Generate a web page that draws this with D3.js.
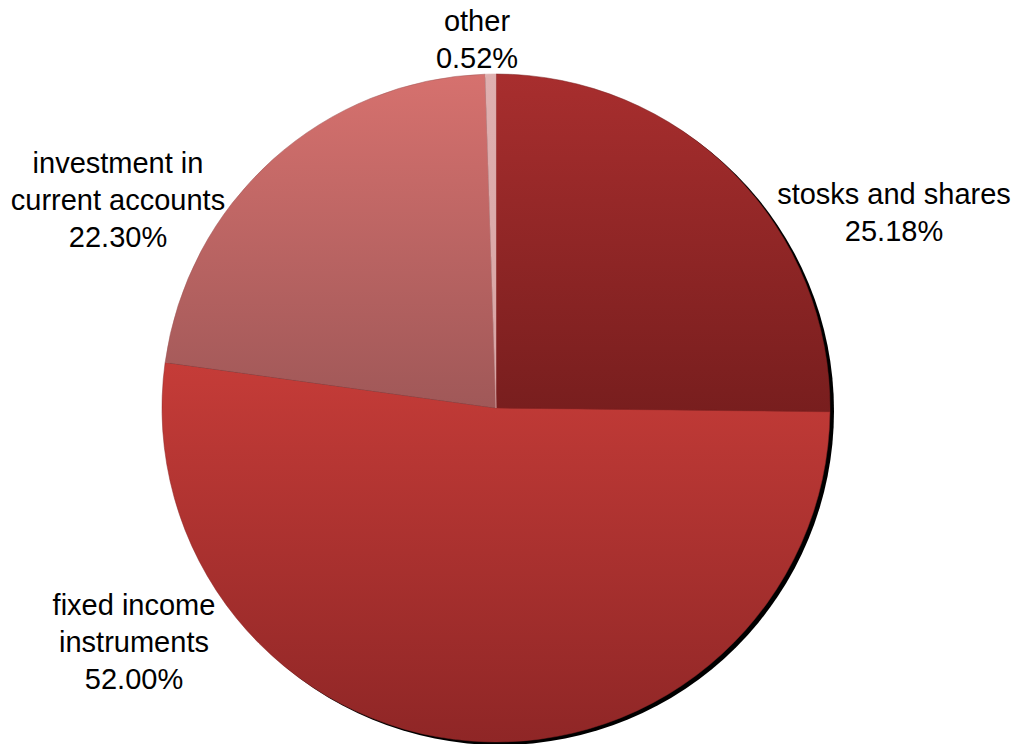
<!DOCTYPE html>
<html>
<head>
<meta charset="utf-8">
<script src="https://cdn.jsdelivr.net/npm/d3@7"></script>
<style>
  html, body { margin: 0; padding: 0; background: #fff; }
  svg { display: block; }
  text { font-family: "Liberation Sans", Arial, sans-serif; }
</style>
</head>
<body>
<script>
// slice data, clockwise from 12 o'clock
const categories = ["stosks and shares", "fixed income instruments", "investment in current accounts", "other"];
const shares = [25.18, 52.00, 22.30, 0.52];
const labelLines = [
    ["stosks and shares"],
    ["fixed income", "instruments"],
    ["investment in", "current accounts"],
    ["other"]
];

// gradient colours per slice (top, bottom)
const topColors = ["#a82e2e", "#c53c38", "#d6716e", "#dfb0b0"];
const bottomColors = ["#781e1e", "#8f2626", "#a05858", "#d8a4a4"];

const width = 1018;
const height = 744;
const cx = 496, cy = 408, radius = 334;

// label anchor (centre x, first baseline y) – hand placed like Excel's best fit
const labelAnchor = [[894, 204], [134, 615], [118, 173], [477, 31]];
const lineH = 37;

const svg = d3.select("body").append("svg")
    .attr("width", width)
    .attr("height", height);

const defs = svg.append("defs");
categories.forEach((c, i) => {
    const g = defs.append("linearGradient")
        .attr("id", "grad" + i)
        .attr("x1", 0).attr("y1", 0).attr("x2", 0).attr("y2", 1);
    g.append("stop").attr("offset", "0%").attr("stop-color", topColors[i]);
    g.append("stop").attr("offset", "100%").attr("stop-color", bottomColors[i]);
});

const pie = d3.pie().sort(null).value(d => d);
const arcs = pie(shares);
const arc = d3.arc().innerRadius(0).outerRadius(radius);

// drop shadow
svg.append("circle")
    .attr("cx", cx + 4)
    .attr("cy", cy + 3)
    .attr("r", radius)
    .attr("fill", "#000");

const g = svg.append("g").attr("transform", `translate(${cx},${cy})`);

g.selectAll("path.slice")
    .data(arcs)
    .enter().append("path")
    .attr("class", "slice")
    .attr("d", arc)
    .attr("fill", (d, i) => `url(#grad${i})`)
    .attr("stroke", (d, i) => bottomColors[i])
    .attr("stroke-width", 0.5);

// labels
const fmt = d3.format(".2f");
arcs.forEach((d, i) => {
    const lines = labelLines[i].concat([fmt(shares[i]) + "%"]);
    const t = svg.append("text")
        .attr("text-anchor", "middle")
        .attr("font-size", 29)
        .attr("fill", "#000");
    lines.forEach((l, j) => {
        t.append("tspan")
            .attr("x", labelAnchor[i][0])
            .attr("y", labelAnchor[i][1] + j * lineH)
            .text(l);
    });
});
</script>
</body>
</html>
